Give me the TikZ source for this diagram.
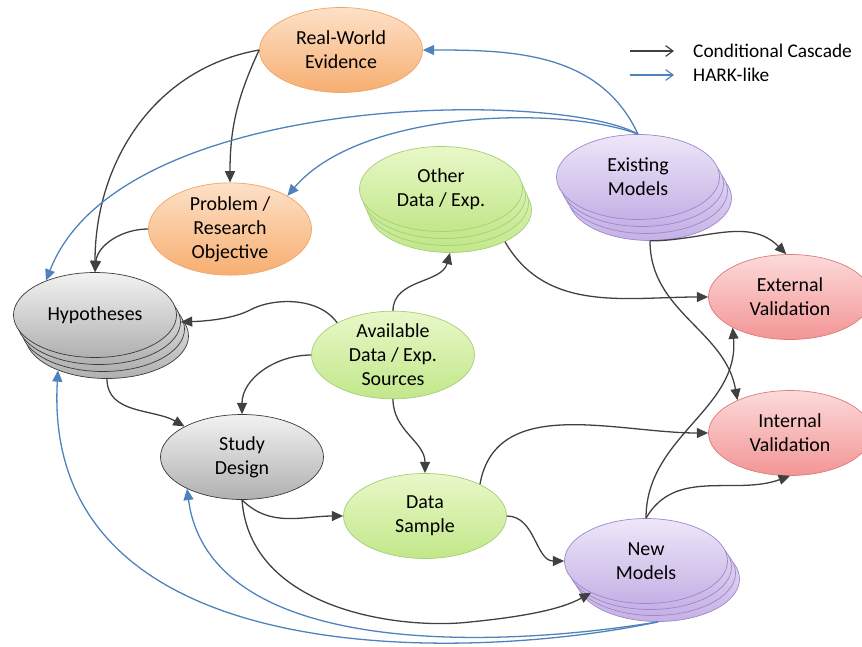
\documentclass[tikz,border=0pt]{standalone}
\usepackage{fontspec}
\setmainfont{Carlito}
\usetikzlibrary{arrows.meta,shapes.geometric}
\definecolor{orangeT}{HTML}{FDE1C8}
\definecolor{orangeB}{HTML}{F7AE70}
\definecolor{orangeD}{HTML}{F2A467}
\definecolor{greenT}{HTML}{E8F8C8}
\definecolor{greenB}{HTML}{C2E78A}
\definecolor{greenD}{HTML}{A6CF78}
\definecolor{purpleT}{HTML}{EEE7F8}
\definecolor{purpleB}{HTML}{C5B1E5}
\definecolor{purpleD}{HTML}{9E87CC}
\definecolor{redT}{HTML}{FCDADA}
\definecolor{redB}{HTML}{F39595}
\definecolor{redD}{HTML}{E07A7A}
\definecolor{grayT}{HTML}{F2F2F2}
\definecolor{grayB}{HTML}{B0B0B0}
\definecolor{grayD}{HTML}{3A3A3A}
\definecolor{blueA}{HTML}{4F81BD}
\definecolor{darkA}{HTML}{404040}
\tikzstyle{ell}=[ellipse,minimum width=48.9mm,minimum height=25.5mm,inner sep=0pt,align=center,line width=0.6pt,font=\fontsize{17}{20.5}\selectfont]
\tikzstyle{orangeell}=[ell,draw=orangeD,top color=orangeT,bottom color=orangeB]
\tikzstyle{greenell}=[ell,draw=greenD,top color=greenT,bottom color=greenB]
\tikzstyle{purpleell}=[ell,draw=purpleD,top color=purpleT,bottom color=purpleB]
\tikzstyle{redell}=[ell,draw=redD,top color=redT,bottom color=redB]
\tikzstyle{grayell}=[ell,draw=grayD,top color=grayT,bottom color=grayB]
\tikzstyle{cascade}=[draw=darkA,line width=1.1pt,-{Triangle[length=3.4mm,width=3mm]}]
\tikzstyle{hark}=[draw=blueA,line width=1.1pt,-{Triangle[length=3.4mm,width=3mm]}]
\tikzstyle{legend}=[anchor=west,inner sep=0pt,font=\fontsize{16.5}{20}\selectfont]

\begin{document}
\begin{tikzpicture}[x=0.3mm,y=-0.3mm]
\useasboundingbox (0,0) rectangle (862,646);
% stacked nodes first
\foreach \k in {3,2,1} {
  \node[grayell] (hyp\k) at ({95+4*\k},{315+7*\k}) {};
  \node[greenell] (other\k) at ({441+3*\k},{189+7*\k}) {};
  \node[purpleell] (exist\k) at ({638+4*\k},{177+7*\k}) {};
  \node[purpleell] (nm\k) at ({646+4*\k},{561+6*\k}) {};
}
\node[orangeell] (rwe) at (341,50) {Real-World\\Evidence};
\node[orangeell] (prob) at (230,229) {Problem /\\Research\\Objective};
\node[grayell] (hyp) at (95,315) {Hypotheses};
\node[grayell] (sd) at (242,457) {Study\\Design};
\node[greenell] (avail) at (393,355) {Available\\Data / Exp.\\Sources};
\node[greenell] (other) at (441,189) {Other\\Data / Exp.};
\node[purpleell] (exist) at (638,177) {Existing\\Models};
\node[redell] (ev) at (790,297) {External\\Validation};
\node[redell] (iv) at (790,433) {Internal\\Validation};
\node[greenell] (ds) at (425,516) {Data\\Sample};
\node[purpleell] (nm) at (646,561) {New\\Models};

% legend
\coordinate (lgA) at (630,51);
\coordinate (lgB) at (674,51);
\coordinate (lgC) at (630,75);
\coordinate (lgD) at (674,75);
\draw[darkA,line width=1pt,-{Straight Barb[length=2.2mm,width=3.2mm]}] (lgA) -- (lgB);
\draw[blueA,line width=1pt,-{Straight Barb[length=2.2mm,width=3.2mm]}] (lgC) -- (lgD);
\node[legend] (lgtxt1) at (693,51) {Conditional Cascade};
\node[legend] (lgtxt2) at (693,75) {HARK-like};

% conditional cascade
\path[every edge/.style={cascade}]
(rwe.west) edge[out=245,in=90] (prob.north)
(rwe.west) edge[out=190,in=90] (hyp.north)
(prob.west) edge[out=180,in=85] (hyp.north)
(avail.west) edge[out=180,in=90] (sd.north)
(avail.north) edge[out=90,in=-105] (other3.south)
(avail.south) edge[out=-90,in=90] (ds.north)
(hyp3.south) edge[out=-90,in=150] (sd.152)
(sd.south) edge[out=-45,in=180] (ds.west)
(ds.east) edge[out=0,in=180] (nm.west)
(ds.30) edge[out=80,in=180] (iv.west)
(other3.-30) edge[out=-60,in=180] (ev.west)
(exist3.south) edge[out=0,in=135] (ev.95)
(exist3.south) edge[out=-90,in=100] (iv.148)
(nm.north) edge[out=90,in=-85] (ev.208)
(nm.north) edge[out=60,in=200] (iv.south);
\draw[cascade] (avail.150) .. controls (318,296) and (272,298) .. (250,310)
  .. controls (235,318) and (210,321) .. (hyp1.east);
\draw[cascade] (sd.south) .. controls (250,610) and (400,630) .. (470,622)
  .. controls (520,617) and (560,610) .. (nm.210);

% HARK-like
\draw[hark] (exist.north) to[out=115,in=0] (rwe.east);
\draw[hark] (exist.north) .. controls (560,105) and (360,110) .. (prob.30);
\draw[hark] (exist.north) .. controls (560,90) and (120,90) .. (hyp.145);
\draw[hark] (nm3.south) .. controls (480,660) and (40,680) .. (hyp3.215);
\draw[hark] (nm3.south) .. controls (500,648) and (210,660) .. (sd.210);
\end{tikzpicture}
\end{document}
